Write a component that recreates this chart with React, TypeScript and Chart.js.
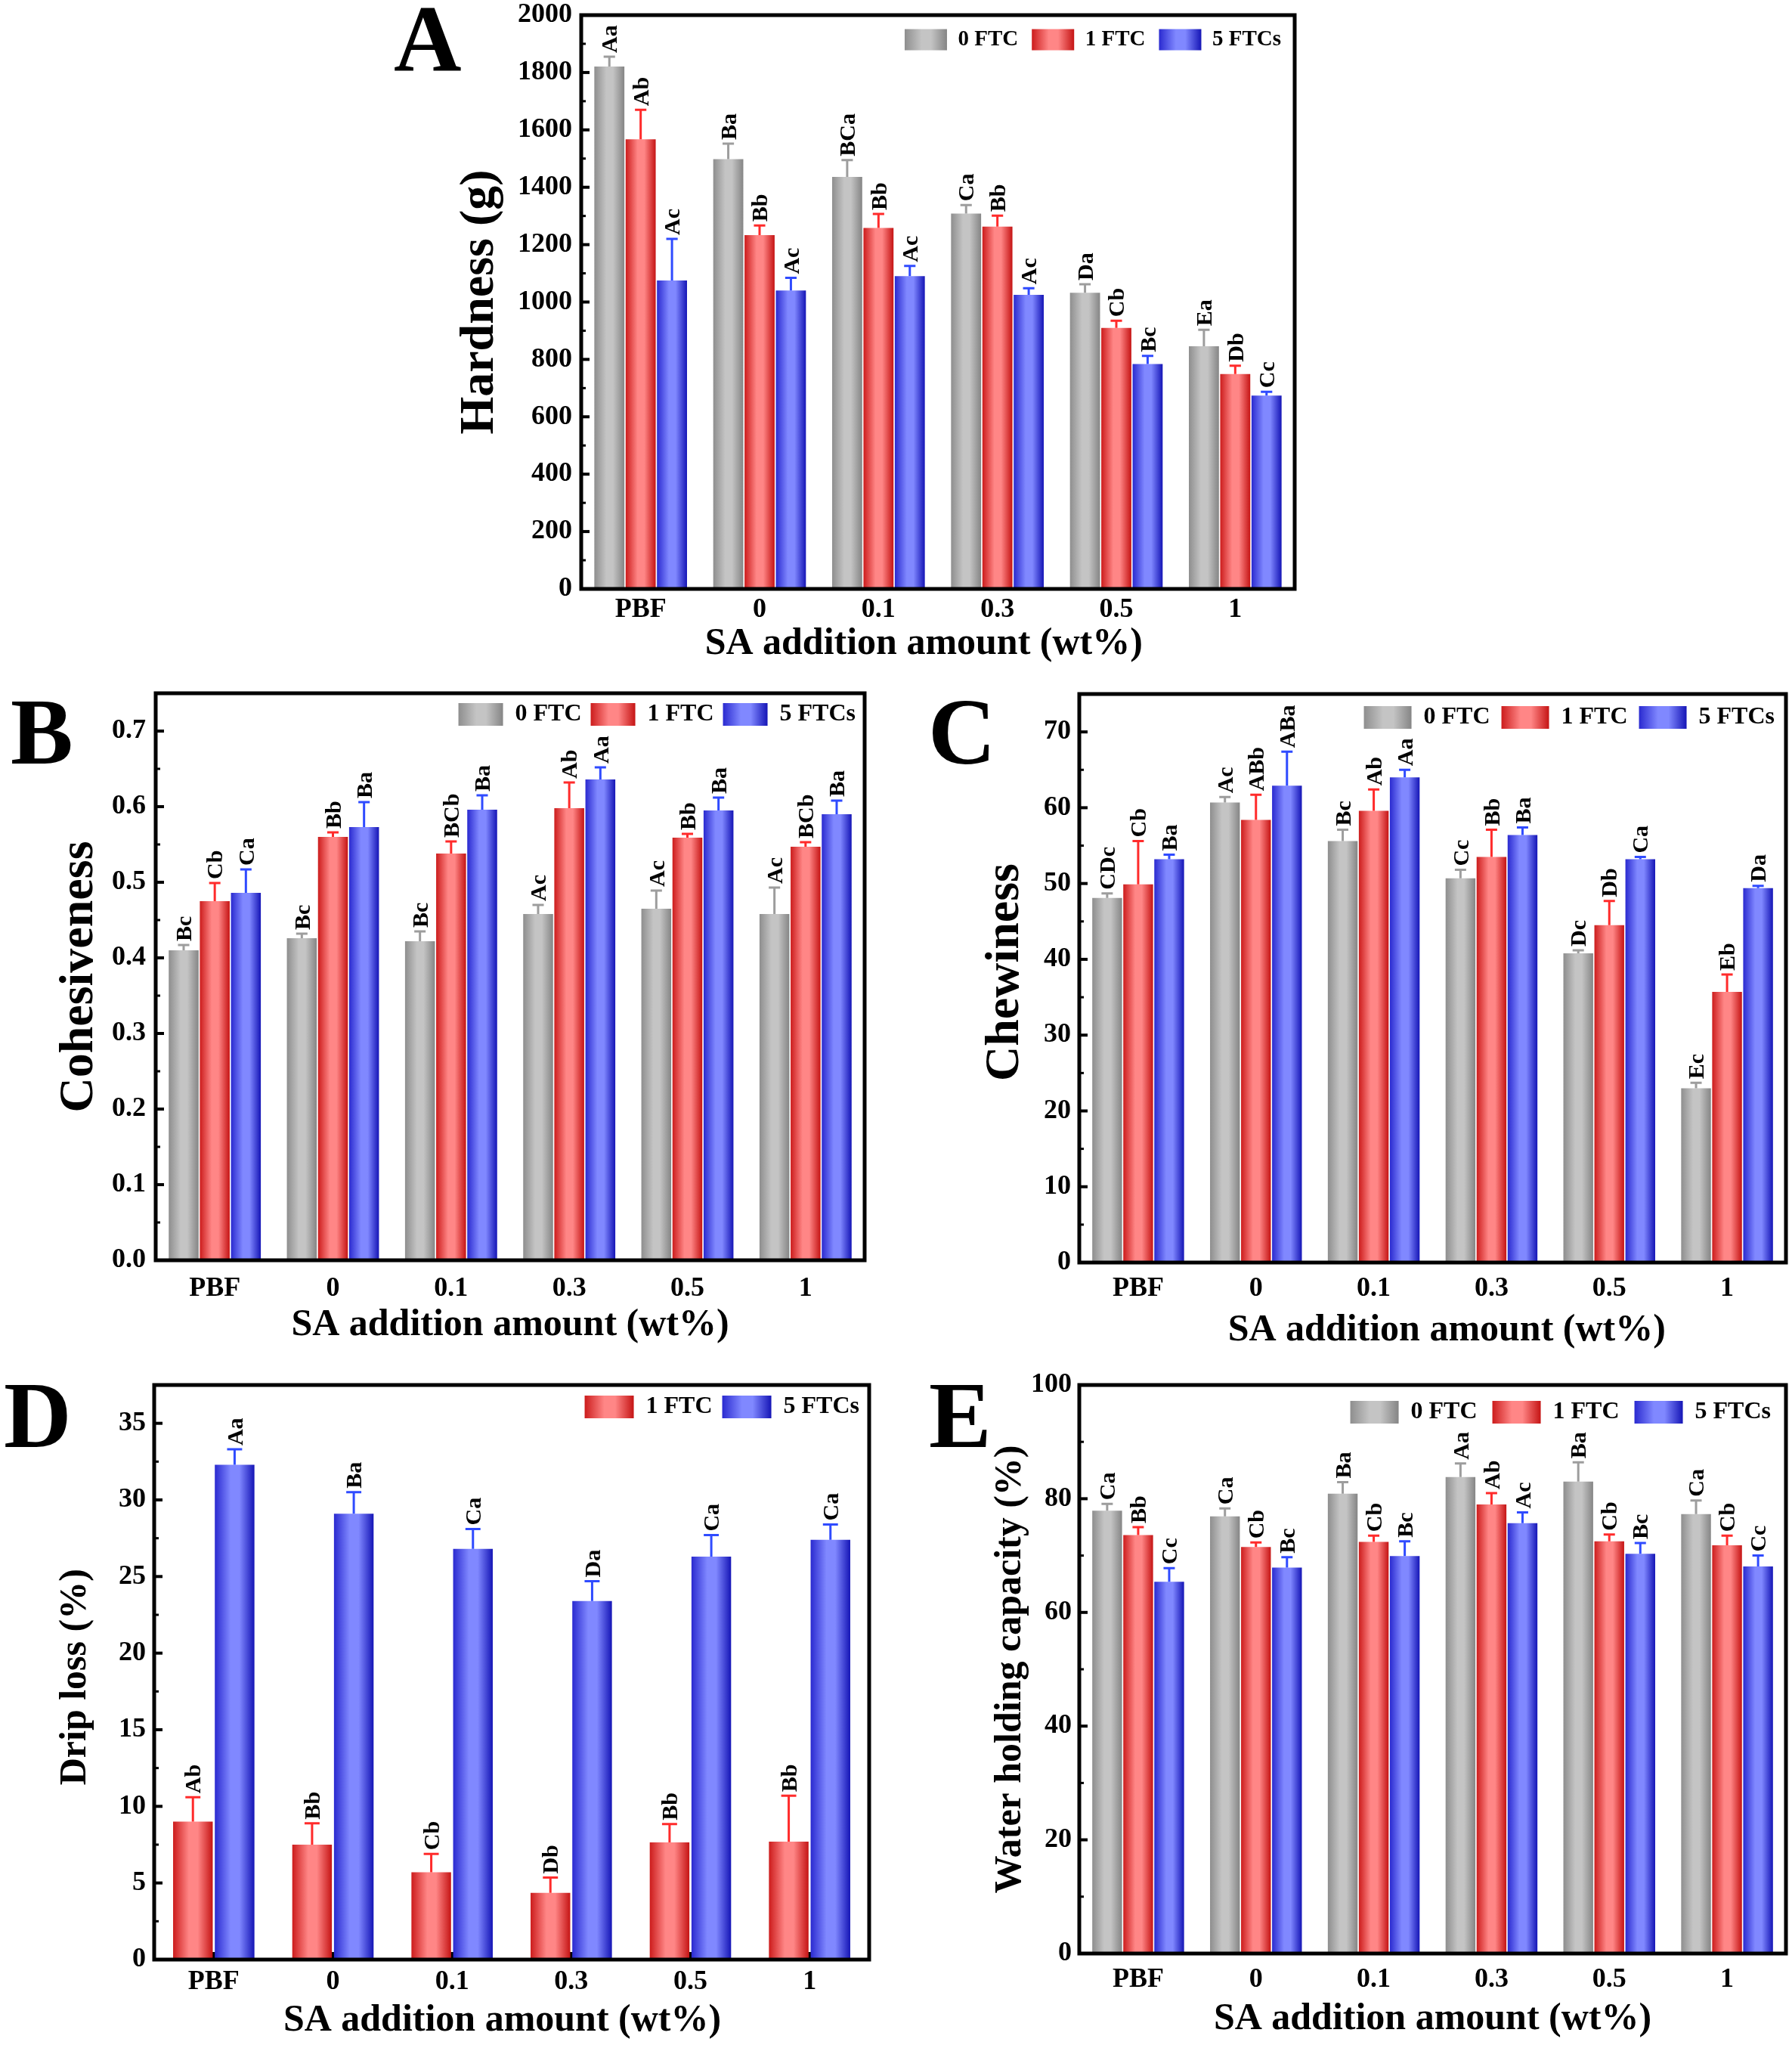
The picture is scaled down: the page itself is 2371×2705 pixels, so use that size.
import React, { useEffect, useRef } from 'react';
import { Chart, registerables } from 'chart.js';

Chart.register(...registerables);

// ---------------- data ----------------
const categories = ['PBF', '0', '0.1', '0.3', '0.5', '1'];

// A: Hardness (g)
const hardness0 = [1821, 1498, 1436, 1308, 1032, 846];
const hardness0Err = [34, 54, 59, 30, 30, 57];
const hardness0Letters = ['Aa', 'Ba', 'BCa', 'Ca', 'Da', 'Ea'];
const hardness1 = [1567, 1233, 1258, 1263, 910, 749];
const hardness1Err = [103, 34, 49, 38, 25, 29];
const hardness1Letters = ['Ab', 'Bb', 'Bb', 'Bb', 'Cb', 'Db'];
const hardness5 = [1075, 1040, 1090, 1025, 784, 674];
const hardness5Err = [145, 44, 36, 23, 28, 13];
const hardness5Letters = ['Ac', 'Ac', 'Ac', 'Ac', 'Bc', 'Cc'];
const hardnessTicks = [0, 200, 400, 600, 800, 1000, 1200, 1400, 1600, 1800, 2000];

// B: Cohesiveness
const cohesiveness0 = [0.41, 0.426, 0.422, 0.458, 0.465, 0.458];
const cohesiveness0Err = [0.007, 0.006, 0.013, 0.012, 0.024, 0.035];
const cohesiveness0Letters = ['Bc', 'Bc', 'Bc', 'Ac', 'Ac', 'Ac'];
const cohesiveness1 = [0.475, 0.56, 0.538, 0.598, 0.559, 0.547];
const cohesiveness1Err = [0.024, 0.006, 0.016, 0.034, 0.005, 0.006];
const cohesiveness1Letters = ['Cb', 'Bb', 'BCb', 'Ab', 'Bb', 'BCb'];
const cohesiveness5 = [0.486, 0.573, 0.596, 0.636, 0.595, 0.59];
const cohesiveness5Err = [0.031, 0.033, 0.019, 0.016, 0.017, 0.018];
const cohesiveness5Letters = ['Ca', 'Ba', 'Ba', 'Aa', 'Ba', 'Ba'];
const cohesivenessTicks = [0, 0.1, 0.2, 0.3, 0.4, 0.5, 0.6, 0.7];

// C: Chewiness
const chewiness0 = [48.1, 60.7, 55.6, 50.7, 40.8, 23.0];
const chewiness0Err = [0.6, 0.7, 1.5, 1.1, 0.4, 0.7];
const chewiness0Letters = ['CDc', 'Ac', 'Bc', 'Cc', 'Dc', 'Ec'];
const chewiness1 = [49.9, 58.4, 59.6, 53.5, 44.5, 35.7];
const chewiness1Err = [5.7, 3.3, 2.8, 3.6, 3.2, 2.3];
const chewiness1Letters = ['Cb', 'ABb', 'Ab', 'Bb', 'Db', 'Eb'];
const chewiness5 = [53.2, 62.9, 64.0, 56.4, 53.2, 49.4];
const chewiness5Err = [0.6, 4.5, 1.0, 1.0, 0.3, 0.3];
const chewiness5Letters = ['Ba', 'ABa', 'Aa', 'Ba', 'Ca', 'Da'];
const chewinessTicks = [0, 10, 20, 30, 40, 50, 60, 70];

// D: Drip loss (%)
const drip1 = [9.0, 7.5, 5.7, 4.35, 7.65, 7.7];
const drip1Err = [1.6, 1.4, 1.2, 1.0, 1.2, 3.0];
const drip1Letters = ['Ab', 'Bb', 'Cb', 'Db', 'Bb', 'Bb'];
const drip5 = [32.3, 29.1, 26.8, 23.4, 26.3, 27.4];
const drip5Err = [1.0, 1.4, 1.3, 1.3, 1.4, 1.0];
const drip5Letters = ['Aa', 'Ba', 'Ca', 'Da', 'Ca', 'Ca'];
const dripTicks = [0, 5, 10, 15, 20, 25, 30, 35];

// E: Water holding capacity (%)
const whc0 = [77.9, 76.9, 80.9, 83.8, 83.0, 77.3];
const whc0Err = [1.2, 1.4, 2.0, 2.4, 3.4, 2.4];
const whc0Letters = ['Ca', 'Ca', 'Ba', 'Aa', 'Ba', 'Ca'];
const whc1 = [73.6, 71.5, 72.4, 79.0, 72.5, 71.8];
const whc1Err = [1.4, 0.8, 1.1, 2.0, 1.2, 1.7];
const whc1Letters = ['Bb', 'Cb', 'Cb', 'Ab', 'Cb', 'Cb'];
const whc5 = [65.4, 67.9, 69.9, 75.7, 70.3, 68.1];
const whc5Err = [2.4, 1.8, 2.6, 1.9, 1.9, 1.9];
const whc5Letters = ['Cc', 'Bc', 'Bc', 'Ac', 'Bc', 'Cc'];
const whcTicks = [0, 20, 40, 60, 80, 100];

// ---------------- styles ----------------
const FONT = "'Liberation Serif', 'Times New Roman', Times, serif";
const LETTER_SIZE = 30;
const X_TITLE = 'SA addition amount (wt%)';
const NB = '\u00A0';

const TONES: any = {
  gray: { edge: '#8e8e8e', edge2: '#858585', light: '#c4c4c4', err: '#9d9d9d' },
  red: { edge: '#cc1c1c', edge2: '#c51414', light: '#ff8686', err: '#ff2b2b' },
  blue: { edge: '#2a2ad0', edge2: '#1515b6', light: '#8088ff', err: '#2f4bff' },
};

function toneGradient(ctx: CanvasRenderingContext2D, x0: number, x1: number, tone: string) {
  const t = TONES[tone];
  const g = ctx.createLinearGradient(x0, 0, x1, 0);
  g.addColorStop(0, t.edge);
  g.addColorStop(0.4, t.light);
  g.addColorStop(0.62, t.light);
  g.addColorStop(1, t.edge2);
  return g;
}

const panels: any[] = [
  {
    key: 'A',
    letter: { x: 521, y: -10 },
    canvas: { x: 590, y: 0, w: 1150, h: 900 },
    area: { l: 769, t: 20, r: 1713, b: 779 },
    yMax: 2000, yTicks: hardnessTicks, yDecimals: 0,
    yTitle: 'Hardness (g)', yTitleSize: 64, yTitleCx: 635, yShift: [0, 0],
    xTitleCy: 852, xTickCy: 807, yTickPad: 12, xShift: [0, 3],
    legend: { size: 29, boxW: 56, boxH: 28, pad: 18 },
    catPct: 0.79, barPct: 0.96,
    series: [
      { label: '0 FTC', tone: 'gray', values: hardness0, errors: hardness0Err, letters: hardness0Letters },
      { label: '1 FTC', tone: 'red', values: hardness1, errors: hardness1Err, letters: hardness1Letters },
      { label: '5 FTCs', tone: 'blue', values: hardness5, errors: hardness5Err, letters: hardness5Letters },
    ],
  },
  {
    key: 'B',
    letter: { x: 14, y: 907 },
    canvas: { x: 0, y: 880, w: 1170, h: 910 },
    area: { l: 206, t: 917, r: 1144, b: 1667 },
    yMax: 0.75, yTicks: cohesivenessTicks, yDecimals: 1,
    yTitle: 'Cohesiveness', yTitleSize: 64, yTitleCx: 105, yShift: [0, 0],
    xTitleCy: 1753, xTickCy: 1705, yTickPad: 13, xShift: [0, 0],
    legend: { size: 32, boxW: 59, boxH: 30, pad: 12 },
    catPct: 0.79, barPct: 0.96,
    series: [
      { label: '0 FTC', tone: 'gray', values: cohesiveness0, errors: cohesiveness0Err, letters: cohesiveness0Letters },
      { label: '1 FTC', tone: 'red', values: cohesiveness1, errors: cohesiveness1Err, letters: cohesiveness1Letters },
      { label: '5 FTCs', tone: 'blue', values: cohesiveness5, errors: cohesiveness5Err, letters: cohesiveness5Letters },
    ],
  },
  {
    key: 'C',
    letter: { x: 1228, y: 907 },
    canvas: { x: 1225, y: 880, w: 1146, h: 910 },
    area: { l: 1428, t: 918, r: 2363, b: 1670 },
    yMax: 75, yTicks: chewinessTicks, yDecimals: 0,
    yTitle: 'Chewiness', yTitleSize: 64, yTitleCx: 1330, yShift: [1, 0],
    xTitleCy: 1760, xTickCy: 1705, yTickPad: 11, xShift: [3, 0],
    legend: { size: 32, boxW: 63, boxH: 30, pad: 15 },
    catPct: 0.79, barPct: 0.96,
    series: [
      { label: '0 FTC', tone: 'gray', values: chewiness0, errors: chewiness0Err, letters: chewiness0Letters },
      { label: '1 FTC', tone: 'red', values: chewiness1, errors: chewiness1Err, letters: chewiness1Letters },
      { label: '5 FTCs', tone: 'blue', values: chewiness5, errors: chewiness5Err, letters: chewiness5Letters },
    ],
  },
  {
    key: 'D',
    letter: { x: 5, y: 1811 },
    canvas: { x: 0, y: 1790, w: 1170, h: 915 },
    area: { l: 204, t: 1832, r: 1150, b: 2592 },
    yMax: 37.5, yTicks: dripTicks, yDecimals: 0,
    yTitle: 'Drip loss (%)', yTitleSize: 50, yTitleCx: 100, yShift: [0, 1],
    xTitleCy: 2673, xTickCy: 2622, yTickPad: 11, xShift: [0, 2],
    legend: { size: 32, boxW: 65, boxH: 30, pad: 13 },
    catPct: 0.7, barPct: 0.95,
    series: [
      { label: '1 FTC', tone: 'red', values: drip1, errors: drip1Err, letters: drip1Letters },
      { label: '5 FTCs', tone: 'blue', values: drip5, errors: drip5Err, letters: drip5Letters },
    ],
  },
  {
    key: 'E',
    letter: { x: 1229, y: 1811 },
    canvas: { x: 1225, y: 1790, w: 1146, h: 915 },
    area: { l: 1428, t: 1832, r: 2363, b: 2584 },
    yMax: 100, yTicks: whcTicks, yDecimals: 0,
    yTitle: 'Water holding capacity (%)', yTitleSize: 50, yTitleCx: 1337, yShift: [0, 0],
    xTitleCy: 2671, xTickCy: 2619, yTickPad: 10, xShift: [0, 0],
    legend: { size: 32, boxW: 64, boxH: 30, pad: 20 },
    catPct: 0.79, barPct: 0.96,
    series: [
      { label: '0 FTC', tone: 'gray', values: whc0, errors: whc0Err, letters: whc0Letters },
      { label: '1 FTC', tone: 'red', values: whc1, errors: whc1Err, letters: whc1Letters },
      { label: '5 FTCs', tone: 'blue', values: whc5, errors: whc5Err, letters: whc5Letters },
    ],
  },
];

function makeDecor(spec: any) {
  return {
    id: 'panelDecor',
    afterLayout(chart: any) {
      const lg = chart.legend;
      if (!lg) return;
      const a = chart.chartArea;
      lg.top = a.top;
      lg.bottom = a.bottom;
      lg.height = a.bottom - a.top;
    },
    beforeDraw(chart: any) {
      const lg = chart.legend;
      if (!lg || !lg.legendItems || !lg.legendHitBoxes) return;
      lg.legendItems.forEach((item: any, i: number) => {
        const hb = lg.legendHitBoxes[i];
        const ds = chart.data.datasets[item.datasetIndex];
        if (!hb || !ds) return;
        item.fillStyle = toneGradient(chart.ctx, hb.left, hb.left + spec.legend.boxW, ds.tone);
      });
    },
    beforeDatasetsDraw(chart: any) {
      const ctx = chart.ctx;
      chart.data.datasets.forEach((ds: any, di: number) => {
        const meta = chart.getDatasetMeta(di);
        meta.data.forEach((el: any) => {
          const p = el.getProps(['x', 'width'], true);
          const g = toneGradient(ctx, p.x - p.width / 2, p.x + p.width / 2, ds.tone);
          if (el.options && !Object.isFrozen(el.options)) el.options.backgroundColor = g;
        });
      });
      const xs = chart.scales.x;
      const a = chart.chartArea;
      ctx.save();
      ctx.strokeStyle = '#000';
      ctx.lineWidth = 4;
      for (let i = 0; i < xs.ticks.length; i++) {
        const px = xs.getPixelForTick(i);
        ctx.beginPath();
        ctx.moveTo(px, a.bottom);
        ctx.lineTo(px, a.bottom - 10);
        ctx.stroke();
      }
      ctx.restore();
    },
    afterDatasetsDraw(chart: any) {
      const ctx = chart.ctx;
      const ys = chart.scales.y;
      spec.series.forEach((s: any, di: number) => {
        const meta = chart.getDatasetMeta(di);
        meta.data.forEach((el: any, i: number) => {
          const p = el.getProps(['x', 'y', 'width'], true);
          const yTop = ys.getPixelForValue(s.values[i] + s.errors[i]);
          const cap = Math.max(14, p.width * 0.38);
          ctx.save();
          ctx.strokeStyle = TONES[s.tone].err;
          ctx.lineWidth = 3;
          ctx.beginPath();
          ctx.moveTo(p.x, p.y);
          ctx.lineTo(p.x, yTop);
          ctx.moveTo(p.x - cap / 2, yTop);
          ctx.lineTo(p.x + cap / 2, yTop);
          ctx.stroke();
          ctx.translate(p.x + LETTER_SIZE * 0.34, yTop - 5);
          ctx.rotate(-Math.PI / 2);
          ctx.fillStyle = '#000';
          ctx.font = `bold ${LETTER_SIZE}px ${FONT}`;
          ctx.textAlign = 'left';
          ctx.textBaseline = 'alphabetic';
          ctx.fillText(s.letters[i], 0, 0);
          ctx.restore();
        });
      });
    },
    afterDraw(chart: any) {
      const ctx = chart.ctx;
      const a = chart.chartArea;
      const ys = chart.scales.y;
      ctx.save();
      ctx.strokeStyle = '#000';
      const ticks = spec.yTicks;
      ctx.lineWidth = 4;
      ticks.forEach((v: number) => {
        const py = ys.getPixelForValue(v);
        ctx.beginPath();
        ctx.moveTo(a.left, py);
        ctx.lineTo(a.left + 11, py);
        ctx.stroke();
      });
      ctx.lineWidth = 3;
      const step = ticks[1] - ticks[0];
      for (let k = 0; k < ticks.length; k++) {
        const mid = ticks[k] + step / 2;
        if (mid >= spec.yMax - 1e-9) continue;
        const py = ys.getPixelForValue(mid);
        ctx.beginPath();
        ctx.moveTo(a.left, py);
        ctx.lineTo(a.left + 6, py);
        ctx.stroke();
      }
      ctx.lineWidth = 5;
      ctx.strokeRect(a.left, a.top, a.right - a.left, a.bottom - a.top);
      ctx.restore();
    },
  };
}

function makeConfig(spec: any): any {
  const c = spec.canvas;
  const a = spec.area;
  const tickFont = { family: FONT, size: 36, weight: 'bold', lineHeight: 1 };
  const xTitleText = NB.repeat(spec.xShift[0]) + X_TITLE + NB.repeat(spec.xShift[1]);
  const yTitleText = NB.repeat(spec.yShift[0]) + spec.yTitle + NB.repeat(spec.yShift[1]);
  return {
    type: 'bar',
    data: {
      labels: categories,
      datasets: spec.series.map((s: any) => ({
        label: s.label,
        data: s.values,
        tone: s.tone,
        backgroundColor: () => TONES[s.tone].light,
        borderWidth: 0,
        categoryPercentage: spec.catPct,
        barPercentage: spec.barPct,
      })),
    },
    options: {
      responsive: false,
      animation: false,
      devicePixelRatio: 1,
      events: [],
      layout: { padding: { left: 0, top: a.t - c.y - 1, right: c.x + c.w - a.r, bottom: 0 } },
      plugins: {
        tooltip: { enabled: false },
        legend: {
          display: true,
          position: 'top',
          align: 'end',
          fullSize: false,
          maxHeight: 1,
          labels: {
            boxWidth: spec.legend.boxW,
            boxHeight: spec.legend.boxH,
            padding: spec.legend.pad,
            color: '#000',
            font: { family: FONT, size: spec.legend.size, weight: 'bold' },
            generateLabels: (chart: any) =>
              chart.data.datasets.map((ds: any, i: number) => ({
                text: ds.label,
                fillStyle: TONES[ds.tone].light,
                strokeStyle: 'rgba(0,0,0,0)',
                lineWidth: 0,
                hidden: false,
                datasetIndex: i,
                fontColor: '#000',
              })),
          },
        },
      },
      scales: {
        x: {
          type: 'category',
          offset: true,
          grid: { display: false, drawTicks: false },
          border: { display: false },
          ticks: {
            color: '#000',
            font: tickFont,
            padding: spec.xTickCy - a.b - 18,
            maxRotation: 0,
            minRotation: 0,
            autoSkip: false,
          },
          title: {
            display: true,
            text: xTitleText,
            color: '#000',
            font: { family: FONT, size: 50, weight: 'bold', lineHeight: 1 },
            padding: { top: 0, bottom: c.y + c.h - spec.xTitleCy - 25 },
          },
          afterFit: (s: any) => {
            s.height = c.y + c.h - a.b;
            s.paddingLeft = 0; s.paddingRight = 0; s.paddingTop = 0; s.paddingBottom = 0;
          },
        },
        y: {
          type: 'linear',
          min: 0,
          max: spec.yMax,
          grid: { display: false, drawTicks: false },
          border: { display: false },
          afterBuildTicks: (s: any) => {
            s.ticks = spec.yTicks.map((v: number) => ({ value: v }));
          },
          ticks: {
            color: '#000',
            font: tickFont,
            padding: spec.yTickPad,
            autoSkip: false,
            callback: (v: any) => Number(v).toFixed(spec.yDecimals),
          },
          title: {
            display: true,
            text: yTitleText,
            color: '#000',
            font: { family: FONT, size: spec.yTitleSize, weight: 'bold', lineHeight: 1 },
            padding: { top: spec.yTitleCx - c.x - spec.yTitleSize / 2, bottom: 0 },
          },
          afterFit: (s: any) => {
            s.width = a.l - c.x;
            s.paddingLeft = 0; s.paddingRight = 0; s.paddingTop = 0; s.paddingBottom = 0;
          },
        },
      },
    },
    plugins: [makeDecor(spec)],
  };
}

function ChartPanel({ spec }: { spec: any }) {
  const ref = useRef<HTMLCanvasElement | null>(null);
  useEffect(() => {
    if (!ref.current) return;
    const chart = new Chart(ref.current, makeConfig(spec));
    return () => {
      chart.destroy();
    };
  }, [spec]);
  const c = spec.canvas;
  return (
    <canvas
      ref={ref}
      width={c.w}
      height={c.h}
      style={{ position: 'absolute', left: c.x, top: c.y, width: c.w, height: c.h }}
    />
  );
}

export default function App() {
  useEffect(() => {
    document.body.style.margin = '0';
    document.body.style.background = '#fff';
  }, []);
  return (
    <div
      style={{
        position: 'absolute',
        left: 0,
        top: 0,
        width: 2371,
        height: 2705,
        background: '#fff',
        overflow: 'hidden',
      }}
    >
      {panels.map((p) => (
        <ChartPanel key={p.key} spec={p} />
      ))}
      {panels.map((p) => (
        <div
          key={'letter-' + p.key}
          style={{
            position: 'absolute',
            left: p.letter.x,
            top: p.letter.y,
            fontFamily: FONT,
            fontWeight: 'bold',
            fontSize: 124,
            lineHeight: 1,
            color: '#000',
          }}
        >
          {p.key}
        </div>
      ))}
    </div>
  );
}
